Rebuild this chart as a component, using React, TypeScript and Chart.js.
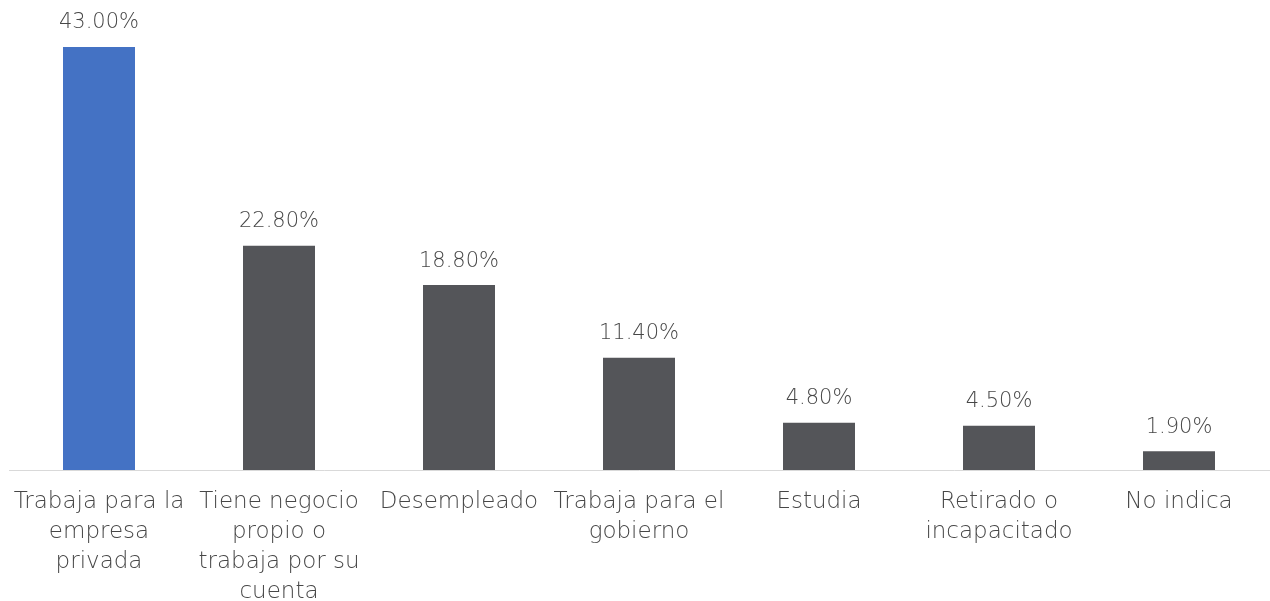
import React, { useEffect, useRef } from "react";
import { Chart, registerables } from "chart.js";

Chart.register(...registerables);

const categories: string[][] = [
  ["Trabaja para la", "empresa", "privada"],
  ["Tiene negocio", "propio o", "trabaja por su", "cuenta"],
  ["Desempleado"],
  ["Trabaja para el", "gobierno"],
  ["Estudia"],
  ["Retirado o", "incapacitado"],
  ["No indica"],
];
const values: number[] = [43.0, 22.8, 18.8, 11.4, 4.8, 4.5, 1.9];
const barColors: string[] = ["#4472C4", "#545559", "#545559", "#545559", "#545559", "#545559", "#545559"];

const FONT = "'DejaVu Sans', sans-serif";
const TEXT = "#474747";

const dataLabelPlugin = {
  id: "dataLabels",
  afterDatasetsDraw(chart: any) {
    const ctx = chart.ctx;
    const meta = chart.getDatasetMeta(0);
    ctx.save();
    ctx.font = `200 21px ${FONT}`;
    ctx.fillStyle = TEXT;
    ctx.textAlign = "center";
    ctx.textBaseline = "middle";
    meta.data.forEach((bar: any, i: number) => {
      const v = values[i];
      ctx.fillText(v.toFixed(2) + "%", bar.x, bar.y - 24);
    });
    ctx.restore();
  },
};

export default function App() {
  const ref = useRef<HTMLCanvasElement>(null);
  useEffect(() => {
    if (!ref.current) return;
    const chart = new Chart(ref.current, {
      type: "bar",
      data: {
        labels: categories,
        datasets: [
          {
            data: values,
            backgroundColor: barColors,
            borderWidth: 0,
            categoryPercentage: 1,
            barPercentage: 0.4,
          },
        ],
      },
      options: {
        responsive: false,
        animation: false,
        layout: { padding: { left: 9, right: 1, top: 0, bottom: 0 } },
        plugins: { legend: { display: false }, tooltip: { enabled: false } },
        scales: {
          x: {
            grid: { display: false, drawTicks: false },
            border: { display: true, color: "#D9D9D9", width: 1 },
            ticks: {
              autoSkip: false,
              maxRotation: 0,
              minRotation: 0,
              color: TEXT,
              padding: 17,
              font: { family: FONT, size: 23, weight: "200", lineHeight: 1.3 },
            },
            afterFit: (scale: any) => {
              scale.height = 131;
              scale.paddingLeft = 0;
              scale.paddingRight = 0;
            },
          },
          y: {
            display: false,
            min: 0,
            max: 47.78,
          },
        },
      },
      plugins: [dataLabelPlugin],
    });
    return () => chart.destroy();
  }, []);
  return (
    <div style={{ position: "absolute", left: 0, top: 0, width: 1270, height: 601, background: "#fff" }}>
      <canvas ref={ref} width={1270} height={601} />
    </div>
  );
}
